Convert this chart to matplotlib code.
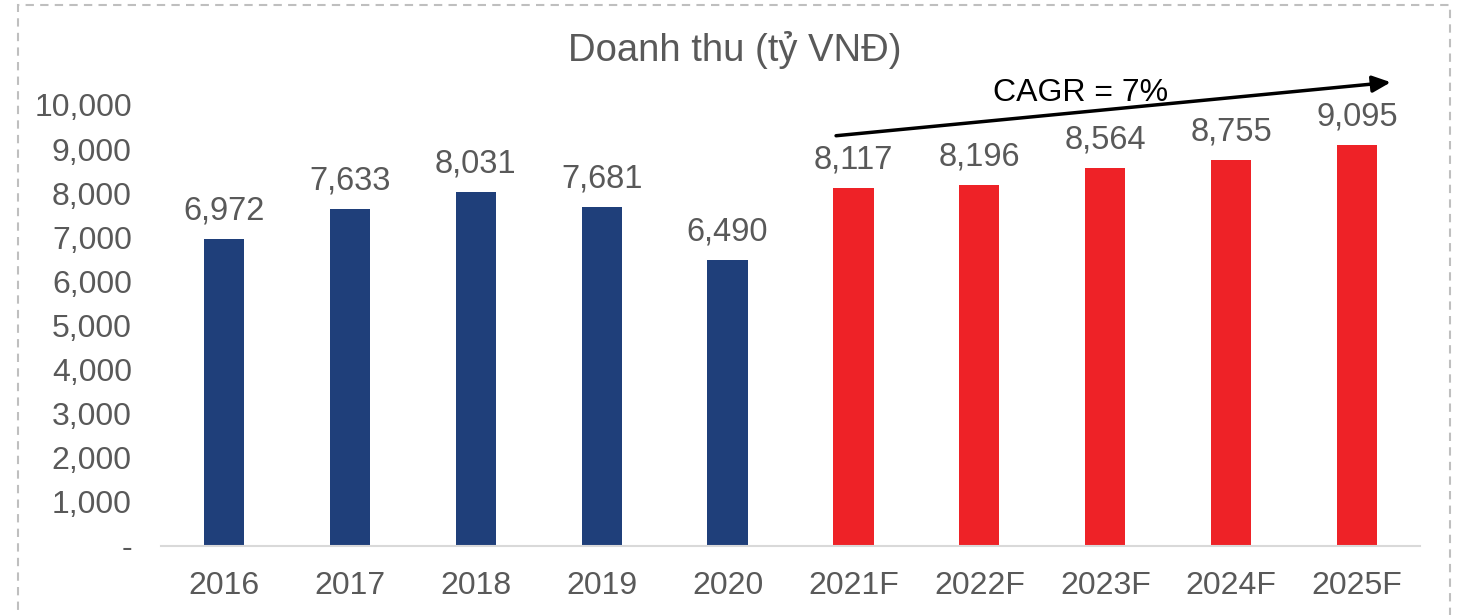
import matplotlib
matplotlib.use("Agg")
import matplotlib.pyplot as plt
from matplotlib.patches import Rectangle
from matplotlib.ticker import FuncFormatter

years = ["2016", "2017", "2018", "2019", "2020", "2021F", "2022F", "2023F", "2024F", "2025F"]
revenue = [6972, 7633, 8031, 7681, 6490, 8117, 8196, 8564, 8755, 9095]
is_forecast = [False] * 5 + [True] * 5
title = "Doanh thu (tỷ VNĐ)"
cagr_text = "CAGR = 7%"

plt.rcParams['font.family'] = ['Liberation Sans', 'DejaVu Sans']
W, H = 1460, 615
fig = plt.figure(figsize=(W / 100, H / 100), dpi=100)

# dashed border
fig.patches.append(Rectangle((18 / W, -0.05), (1450 - 18) / W, 1 - 5 / H + 0.05,
                             transform=fig.transFigure, fill=False,
                             edgecolor='#BFBFBF', linestyle=(0, (4, 3)), linewidth=1.5))

ax = fig.add_axes([161 / W, (H - 546) / H, (1420 - 161) / W, (546 - 105) / H])
navy, red, gray = '#1F3F7A', '#EE2227', '#595959'
colors = [red if f else navy for f in is_forecast]
x = list(range(len(years)))
bars = ax.bar(x, revenue, width=0.32, color=colors)
ax.set_xlim(-0.5, len(years) - 0.5)
ax.set_ylim(0, 10000)
ax.set_yticks(range(0, 10001, 1000))
ax.yaxis.set_major_formatter(FuncFormatter(lambda v, p: '-' if v == 0 else f"{int(v):,}"))
ax.set_xticks(x)
ax.set_xticklabels(years)
for s in ['top', 'right', 'left']:
    ax.spines[s].set_visible(False)
ax.spines['bottom'].set_color('#D9D9D9')
ax.spines['bottom'].set_linewidth(1.5)
ax.tick_params(axis='both', length=0, labelsize=23, labelcolor=gray)
ax.tick_params(axis='x', pad=18)
ax.tick_params(axis='y', pad=21)

for xi, v in zip(x, revenue):
    ax.annotate(f"{v:,}", (xi, v), xytext=(0, 9), textcoords='offset points',
                ha='center', va='bottom', fontsize=23.5, color=gray)

fig.text(735 / W, 1 - 50 / H, title, ha='center', va='center', fontsize=27.5, color=gray)

ax.annotate('', xy=(9.29, 10522), xytext=(4.84, 9297),
            arrowprops=dict(arrowstyle='-|>,head_length=1.1,head_width=0.5', color='black', lw=2.5),
            annotation_clip=False)
ax.text(6.80, 10270, cagr_text, ha='center', va='center', fontsize=23, color='black', clip_on=False)

fig.savefig('out.png', dpi=100)
